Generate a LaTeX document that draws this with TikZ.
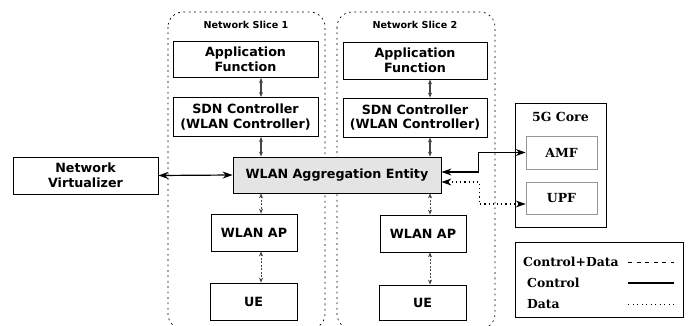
\documentclass[tikz,border=0pt]{standalone}
\usepackage{fontspec}
\setmainfont{DejaVu Sans}
\newfontfamily\legendfont{DejaVu Serif}
\usetikzlibrary{arrows.meta}
\definecolor{entityGrey}{RGB}{228, 228, 228}
\definecolor{arrowGrey}{RGB}{70, 70, 70}
\definecolor{coreGrey}{RGB}{150, 150, 150}

\begin{document}
\begin{tikzpicture} [
        x=1pt, y=-1pt,
        box/.style={draw, line width=0.8pt, align=center, inner sep=0pt, font=\fontsize{12.7}{14.7}\selectfont\bfseries},
        entity/.style={box, fill=entityGrey},
        slice/.style={draw, line width=0.7pt, rounded corners=15pt, dash pattern=on 1.8pt off 3.6pt},
        label slice/.style={font=\fontsize{9.6}{11}\selectfont\bfseries},
        core/.style={draw, line width=0.8pt, minimum width=91pt, minimum height=124pt},
        core fn/.style={draw=coreGrey, line width=0.6pt, minimum width=71pt, font=\legendfont\fontsize{12.5}{14}\selectfont\bfseries},
        label legend/.style={anchor=west, inner sep=0pt, font=\legendfont\fontsize{12.4}{14}\selectfont\bfseries},
        slice arrow/.style={{Stealth[length=5pt,width=4pt]}-{Stealth[length=5pt,width=4pt]}, line width=1.1pt, arrowGrey},
        slice dashed/.style={slice arrow, line width=0.8pt, dash pattern=on 2pt off 1.5pt},
        control/.style={{Stealth[length=10pt,width=7pt]}-{Stealth[length=10pt,width=7pt]}, line width=1.2pt},
        data/.style={{Stealth[length=10pt,width=7pt]}-{Stealth[length=10pt,width=7pt]}, line width=1.1pt, dash pattern=on 1.2pt off 3pt},
    ]
    \useasboundingbox (0,0) rectangle (695,326);

    % slices
    \draw[slice] (168,12) rectangle (325,329);
    \draw[slice] (337,12) rectangle (495,329);
    \node[label slice] (slice label 1) at (246,25) {Network Slice 1};
    \node[label slice] (slice label 2) at (415,25) {Network Slice 2};

    \node[box, minimum width=145pt, minimum height=36pt] (app1) at (245.5,59.5) {Application\\Function};
    \node[box, minimum width=145pt, minimum height=39pt] (sdn1) at (245.5,117) {SDN Controller\\(WLAN Controller)};
    \node[box, minimum width=144pt, minimum height=37pt] (app2) at (415,60.5) {Application\\Function};
    \node[box, minimum width=144pt, minimum height=39pt] (sdn2) at (415,117.5) {SDN Controller\\(WLAN Controller)};

    \node[entity, minimum width=208pt, minimum height=36pt] (wae) at (337,175) {WLAN Aggregation Entity};
    \node[box, minimum width=145pt, minimum height=37pt] (nv) at (85.5,175.5) {Network\\Virtualizer};

    \node[box, minimum width=86pt, minimum height=37pt] (ap1) at (254,232.5) {WLAN AP};
    \node[box, minimum width=87pt, minimum height=37pt] (ue1) at (253.5,301.5) {UE};
    \node[box, minimum width=86pt, minimum height=37pt] (ap2) at (423,233.5) {WLAN AP};
    \node[box, minimum width=87pt, minimum height=35pt] (ue2) at (422.5,302.5) {UE};

    % 5G core
    \node[core] (core) at (560.5,165) {};
    \node[font=\legendfont\fontsize{12.5}{14}\selectfont\bfseries] (core label) at (560.5,117) {5G Core};
    \node[core fn, minimum height=33pt] (amf) at (561.5,152.5) {AMF};
    \node[core fn, minimum height=32pt] (upf) at (561.5,198) {UPF};

    % arrows inside the slices
    \coordinate (x1) at (261,0);
    \coordinate (x2) at (430,0);
    \draw[slice arrow] (app1.south -| x1) -- (sdn1.north -| x1);
    \draw[slice arrow] (sdn1.south -| x1) -- (wae.north -| x1);
    \draw[slice dashed] (wae.south -| x1) -- (ap1.north -| x1);
    \draw[slice dashed] (ap1.south -| x1) -- (ue1.north -| x1);
    \draw[slice arrow] (app2.south -| x2) -- (sdn2.north -| x2);
    \draw[slice arrow] (sdn2.south -| x2) -- (wae.north -| x2);
    \draw[slice dashed] (wae.south -| x2) -- (ap2.north -| x2);
    \draw[slice dashed] (ap2.south -| x2) -- (ue2.north -| x2);

    \draw[control] (nv.east) -- (wae.west);
    \draw[control] ([yshift=3pt]wae.east) -- ++(37,0) |- (amf.west);
    \draw[data] ([yshift=-7pt]wae.east) -- ++(38,0) |- ([yshift=-6pt]upf.west);

    % legend
    \node[draw, line width=0.8pt, minimum width=168pt, minimum height=75pt] (legend) at (599,279.5) {};
    \node[label legend] (legend cd) at (523,262) {Control+Data};
    \node[label legend] (legend c) at (527,283) {Control};
    \node[label legend] (legend d) at (527,304) {Data};
    \coordinate (line start) at (628,0);
    \coordinate (line end) at (674,0);
    \draw[line width=0.8pt, dash pattern=on 4pt off 4.5pt] (line start |- legend cd) -- (line end |- legend cd);
    \draw[line width=1.3pt] (line start |- legend c) -- (line end |- legend c);
    \draw[line width=0.8pt, dash pattern=on 1pt off 3.5pt] (line start |- legend d) -- (line end |- legend d);
\end{tikzpicture}
\end{document}
